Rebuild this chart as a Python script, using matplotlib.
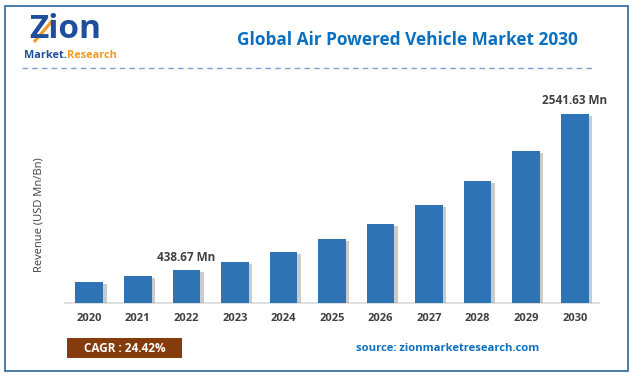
import matplotlib
matplotlib.use("Agg")
import matplotlib.pyplot as plt
import matplotlib.patheffects as pe
from matplotlib.patches import Rectangle
from matplotlib.lines import Line2D

# data
years = ["2020", "2021", "2022", "2023", "2024", "2025",
         "2026", "2027", "2028", "2029", "2030"]
revenue = [282, 357, 438.67, 545, 680, 860, 1056, 1316, 1638, 2045, 2541.63]
shown_values = [2, 10]  # bars that carry a value label
cagr = "CAGR : 24.42%"
title = "Global Air Powered Vehicle Market 2030"
source = "source: zionmarketresearch.com"

W, H = 635, 376
plt.rcParams['font.family'] = ['Open Sans', 'DejaVu Sans']

fig = plt.figure(figsize=(W / 100, H / 100), dpi=100)


def px(x, y):
    # pixel coords (top-left origin) -> figure fraction
    return x / W, 1 - y / H


# outer frame
fig.patches.append(Rectangle(px(4.5, 370.5), 623.5 / W, 364.5 / H, transform=fig.transFigure,
                             fill=False, edgecolor='#3D6FA4', linewidth=1.3))

# logo (text only)
fig.text(*px(29, 30), "Zion", fontsize=24, fontweight='bold', color='#1F4F9C',
         ha='left', va='center')
fig.lines.append(Line2D([34 / W, 53 / W], [1 - 42 / H, 1 - 20 / H], transform=fig.transFigure,
                        color='#F39A1E', linewidth=2.2, solid_capstyle='butt'))
fig.text(*px(67, 55), "Market.", fontsize=7.8, fontweight='bold', color='#1F4F9C',
         ha='right', va='center')
fig.text(*px(67, 55), "Research", fontsize=7.8, fontweight='bold', color='#F39A1E',
         ha='left', va='center')

# title + dashed rule
fig.text(*px(407, 40), title, fontsize=12.4, fontweight='bold', color='#0B70BF',
         ha='center', va='center')
fig.lines.append(Line2D([22 / W, 593 / W], [1 - 68 / H, 1 - 68 / H], transform=fig.transFigure,
                        color='#7F9FD3', linewidth=1, linestyle=(0, (4, 3))))

# bars
ax = fig.add_axes([65 / W, 1 - 303 / H, 534 / W, 213 / H])
x = range(len(years))
bars = ax.bar(x, revenue, width=0.57, color='#2E74B5', zorder=3)
for b in bars:
    b.set_path_effects([pe.SimplePatchShadow(offset=(2.5, -1.5), shadow_rgbFace='#999999', alpha=0.5),
                        pe.Normal()])

for i in shown_values:
    ax.text(i, revenue[i] + 90, f"{revenue[i]:.2f} Mn", ha='center', va='bottom',
            fontsize=8.5, fontweight='bold', color='#404040')

ax.set_xlim(-0.5, len(years) - 0.5)
ax.set_ylim(0, 2860)
ax.set_xticks(list(x))
ax.set_xticklabels(years, fontsize=8, fontweight='bold', color='#404040')
ax.tick_params(axis='x', length=0, pad=7)
ax.set_yticks([])
for s in ['top', 'right', 'left']:
    ax.spines[s].set_visible(False)
ax.spines['bottom'].set_color('#D9D9D9')
ax.spines['bottom'].set_linewidth(1.2)

fig.text(*px(39, 215), "Revenue (USD Mn/Bn)", rotation=90, fontsize=8, color='#404040',
         ha='center', va='center')

# CAGR box
fig.patches.append(Rectangle(px(67, 358), 115 / W, 20 / H, transform=fig.transFigure,
                             facecolor='#843C0C', edgecolor='none'))
fig.text(*px(124.5, 348), cagr, fontsize=8.5, fontweight='bold', color='white',
         ha='center', va='center')

fig.text(*px(448, 348.5), source, fontsize=8.1, fontweight='bold', color='#0B70BF',
         ha='center', va='center')

fig.savefig("out.png", dpi=100)
